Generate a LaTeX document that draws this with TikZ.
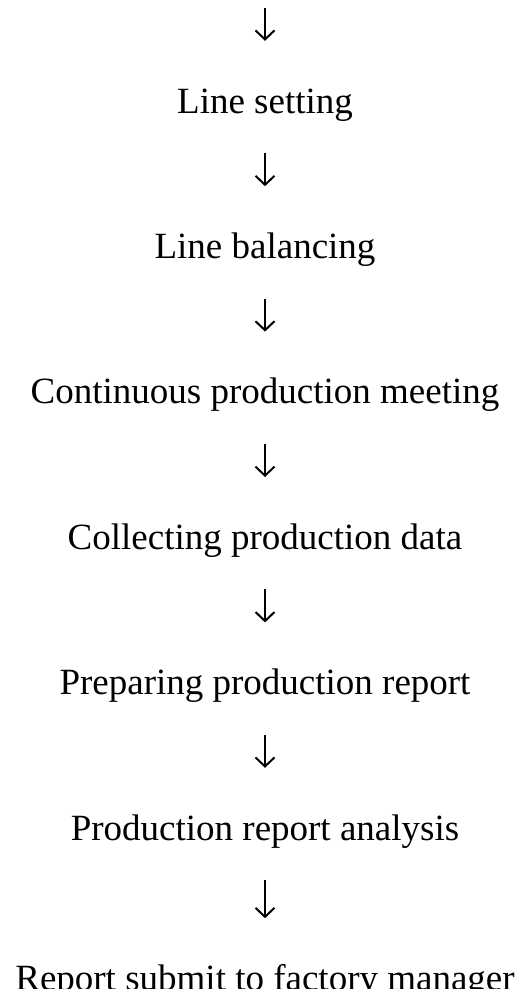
\documentclass[tikz,border=0pt]{standalone}
\usepackage{fontspec}
\setmainfont{Liberation Serif}
\usetikzlibrary{positioning, chains, arrows.meta}

\begin{document}
\begin{tikzpicture}[x=1pt, y=1pt,
    stage/.style={inner sep=0pt, text height=27pt, text depth=9pt,
      font=\fontsize{37}{44}\selectfont},
    flow/.style={-{Straight Barb[length=9pt,width=19pt,line width=2pt]},
      line width=2pt, shorten <=31pt, shorten >=45pt},
    node distance=109pt, start chain=going below]

  \useasboundingbox (0,0) rectangle (525,-989);

  \coordinate (top) at (265,-8);
  \node[stage, on chain, anchor=base] (setting) at (265,-113) {Line setting};
  \node[stage, on chain] (balancing) {Line balancing};
  \node[stage, on chain] (meeting) {Continuous production meeting};
  \node[stage, on chain] (collecting) {Collecting production data};
  \node[stage, on chain] (preparing) {Preparing production report};
  \node[stage, on chain] (analysis) {Production report analysis};
  \node[stage, below=114pt of analysis] (submit) {Report submit to factory manager};

  \draw[flow, shorten <=0pt] (top) -- (setting);
  \foreach \a/\b in {setting/balancing, balancing/meeting, meeting/collecting,
      collecting/preparing, preparing/analysis, analysis/submit}
    \draw[flow] (\a) -- (\b);
\end{tikzpicture}
\end{document}
